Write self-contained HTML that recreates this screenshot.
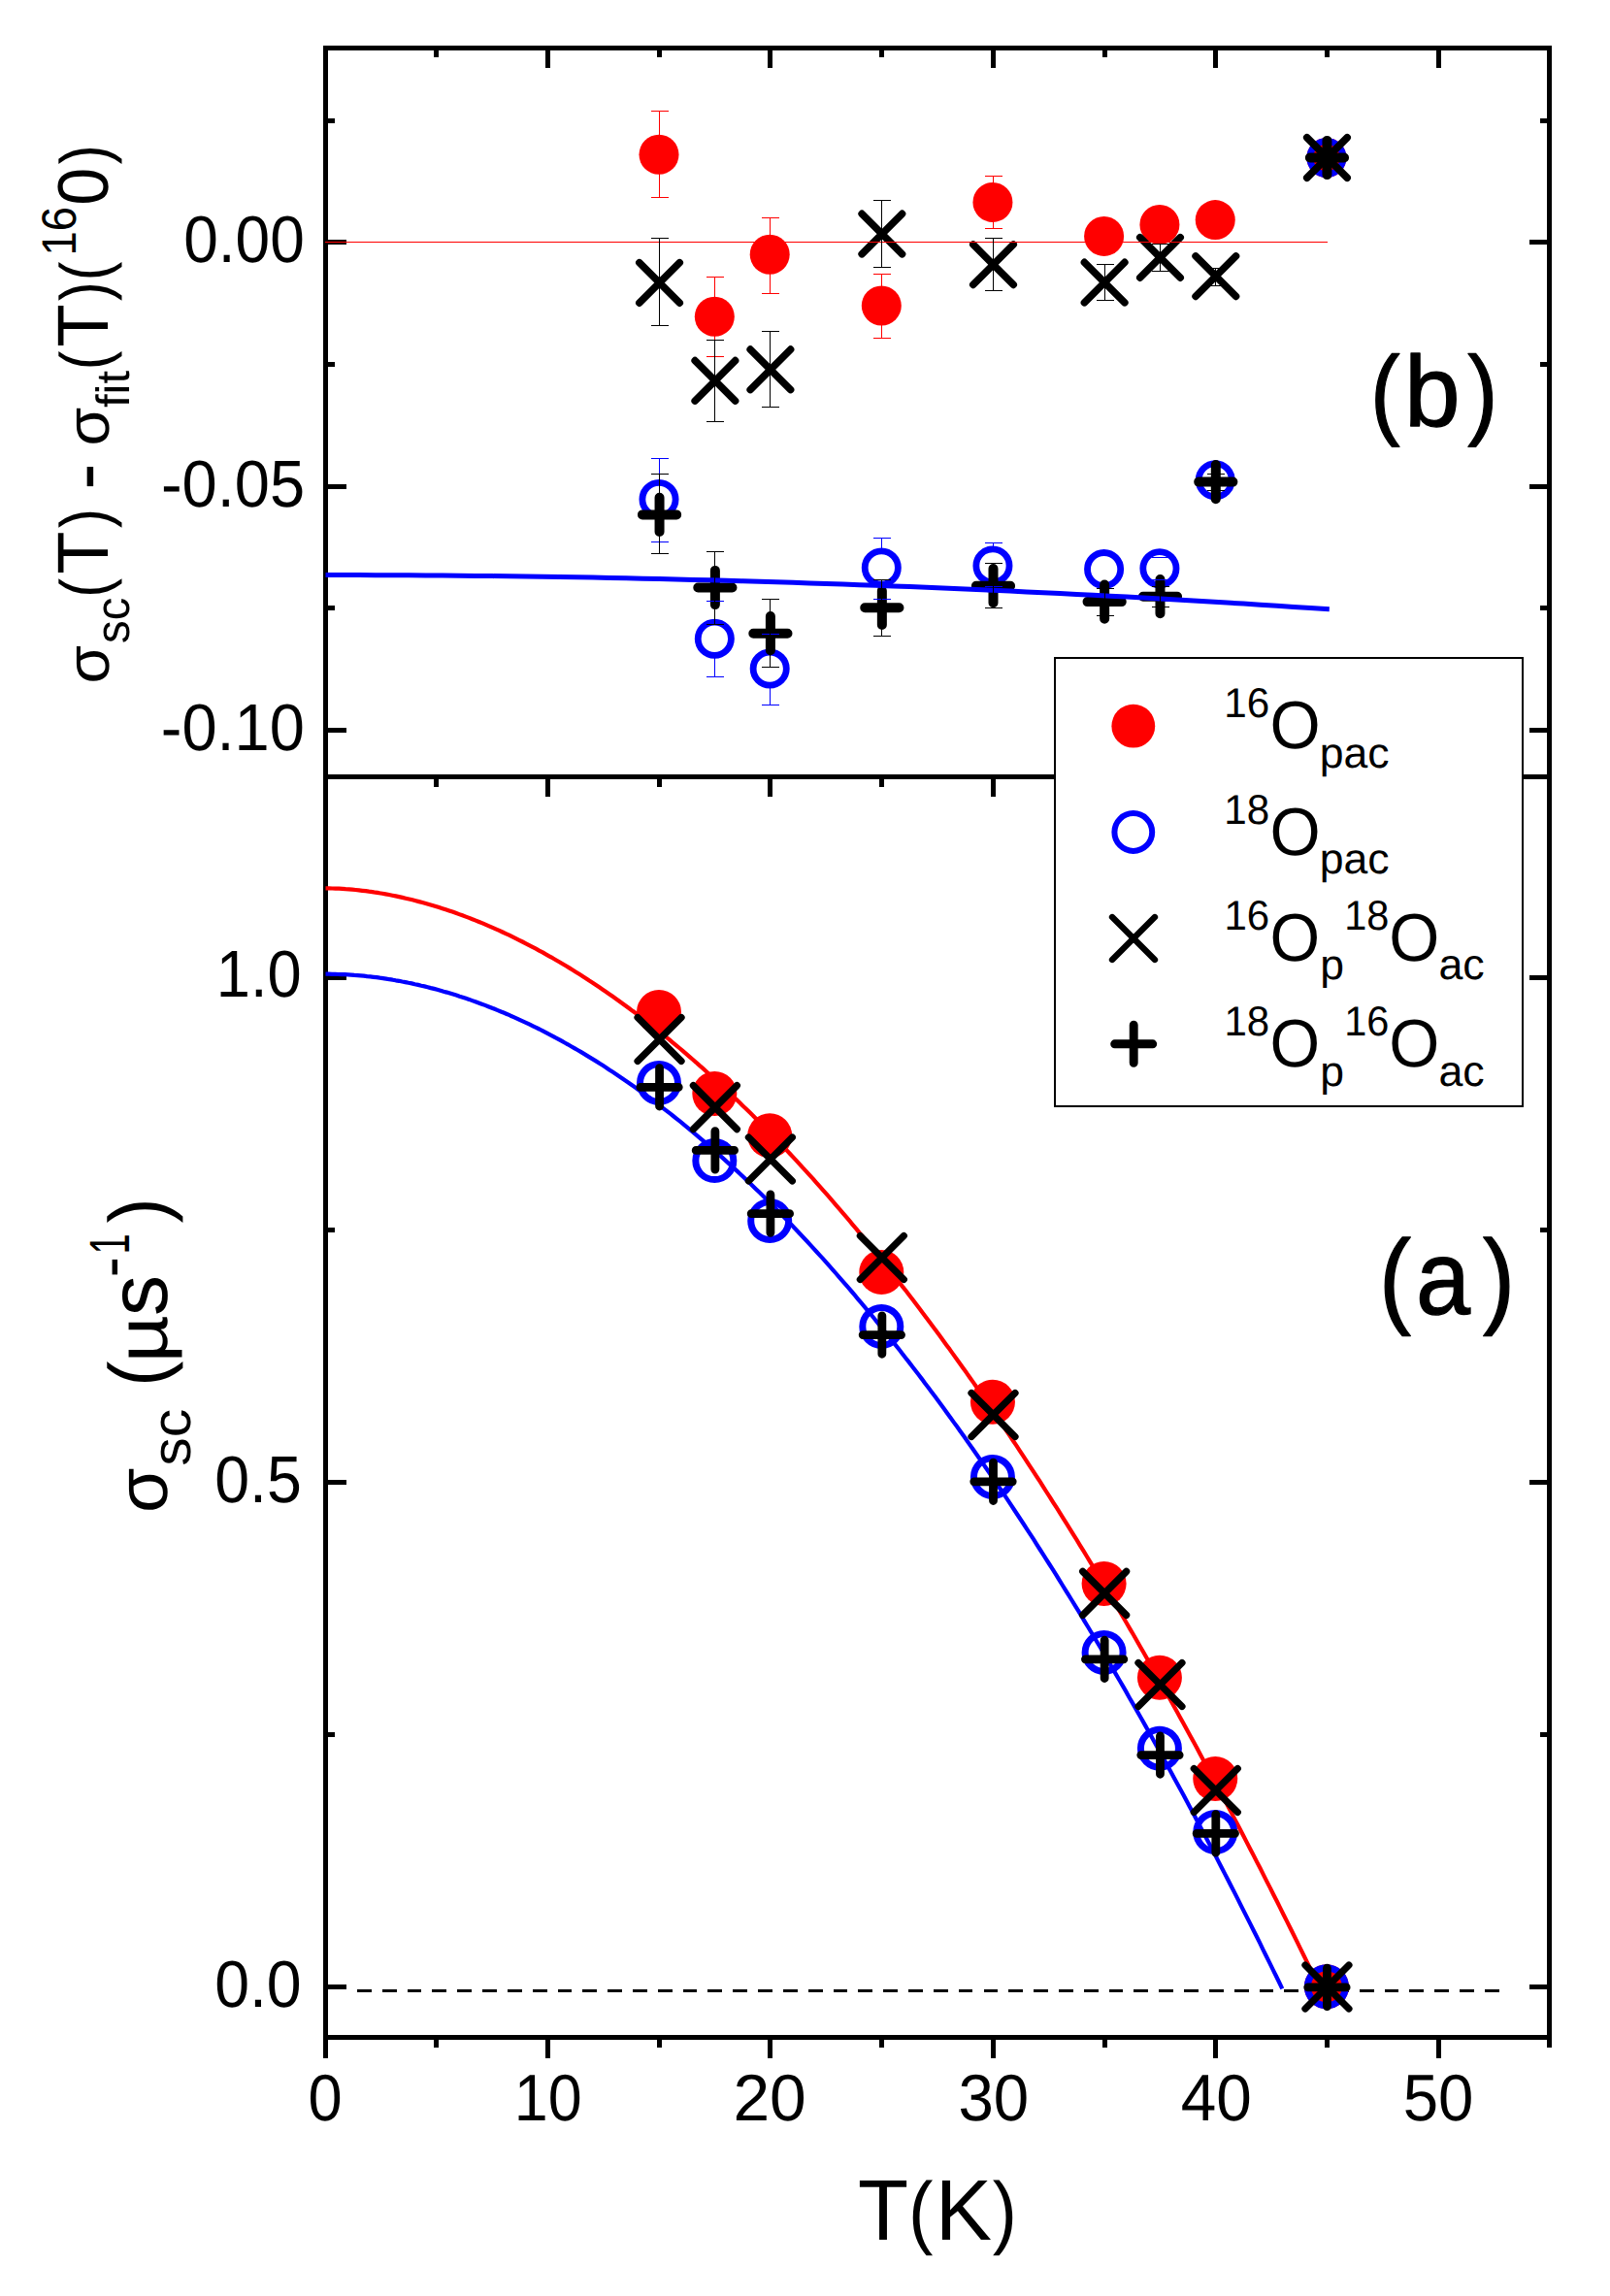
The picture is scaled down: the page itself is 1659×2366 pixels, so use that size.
<!DOCTYPE html>
<html lang="en"><head><meta charset="utf-8"><title>sigma_sc vs T</title>
<style>html,body{margin:0;padding:0;background:#fff}svg{display:block}text{font-family:"Liberation Sans",sans-serif;fill:#000;font-kerning:none;text-rendering:geometricPrecision}</style></head><body>
<svg width="1659" height="2366" viewBox="0 0 1659 2366">
<rect x="0" y="0" width="1659" height="2366" fill="#fff"/>
<g stroke="#000000" stroke-width="5" fill="none" shape-rendering="crispEdges">
<rect x="335.5" y="49.5" width="1261.0" height="2050.0"/>
<line x1="335.5" y1="800.0" x2="1596.5" y2="800.0"/>
<line x1="335.5" y1="2102.0" x2="335.5" y2="2120.5"/>
<line x1="449.5" y1="52.0" x2="449.5" y2="59.0"/>
<line x1="449.5" y1="802.5" x2="449.5" y2="810.5"/>
<line x1="449.5" y1="2102.0" x2="449.5" y2="2109.5"/>
<line x1="564.5" y1="52.0" x2="564.5" y2="70.0"/>
<line x1="564.5" y1="802.5" x2="564.5" y2="820.5"/>
<line x1="564.5" y1="2102.0" x2="564.5" y2="2120.5"/>
<line x1="679.5" y1="52.0" x2="679.5" y2="59.0"/>
<line x1="679.5" y1="802.5" x2="679.5" y2="810.5"/>
<line x1="679.5" y1="2102.0" x2="679.5" y2="2109.5"/>
<line x1="793.5" y1="52.0" x2="793.5" y2="70.0"/>
<line x1="793.5" y1="802.5" x2="793.5" y2="820.5"/>
<line x1="793.5" y1="2102.0" x2="793.5" y2="2120.5"/>
<line x1="908.5" y1="52.0" x2="908.5" y2="59.0"/>
<line x1="908.5" y1="802.5" x2="908.5" y2="810.5"/>
<line x1="908.5" y1="2102.0" x2="908.5" y2="2109.5"/>
<line x1="1023.5" y1="52.0" x2="1023.5" y2="70.0"/>
<line x1="1023.5" y1="802.5" x2="1023.5" y2="820.5"/>
<line x1="1023.5" y1="2102.0" x2="1023.5" y2="2120.5"/>
<line x1="1138.5" y1="52.0" x2="1138.5" y2="59.0"/>
<line x1="1138.5" y1="802.5" x2="1138.5" y2="810.5"/>
<line x1="1138.5" y1="2102.0" x2="1138.5" y2="2109.5"/>
<line x1="1252.5" y1="52.0" x2="1252.5" y2="70.0"/>
<line x1="1252.5" y1="802.5" x2="1252.5" y2="820.5"/>
<line x1="1252.5" y1="2102.0" x2="1252.5" y2="2120.5"/>
<line x1="1367.5" y1="52.0" x2="1367.5" y2="59.0"/>
<line x1="1367.5" y1="802.5" x2="1367.5" y2="810.5"/>
<line x1="1367.5" y1="2102.0" x2="1367.5" y2="2109.5"/>
<line x1="1482.5" y1="52.0" x2="1482.5" y2="70.0"/>
<line x1="1482.5" y1="802.5" x2="1482.5" y2="820.5"/>
<line x1="1482.5" y1="2102.0" x2="1482.5" y2="2120.5"/>
<line x1="1596.5" y1="2102.0" x2="1596.5" y2="2109.5"/>
<line x1="338.0" y1="124.5" x2="345.0" y2="124.5"/>
<line x1="1594.0" y1="124.5" x2="1587.0" y2="124.5"/>
<line x1="338.0" y1="249.5" x2="356.5" y2="249.5"/>
<line x1="1594.0" y1="249.5" x2="1575.5" y2="249.5"/>
<line x1="338.0" y1="375.5" x2="345.0" y2="375.5"/>
<line x1="1594.0" y1="375.5" x2="1587.0" y2="375.5"/>
<line x1="338.0" y1="501.5" x2="356.5" y2="501.5"/>
<line x1="1594.0" y1="501.5" x2="1575.5" y2="501.5"/>
<line x1="338.0" y1="626.5" x2="345.0" y2="626.5"/>
<line x1="1594.0" y1="626.5" x2="1587.0" y2="626.5"/>
<line x1="338.0" y1="752.5" x2="356.5" y2="752.5"/>
<line x1="1594.0" y1="752.5" x2="1575.5" y2="752.5"/>
<line x1="338.0" y1="1007.5" x2="356.5" y2="1007.5"/>
<line x1="1594.0" y1="1007.5" x2="1575.5" y2="1007.5"/>
<line x1="338.0" y1="1267.5" x2="345.0" y2="1267.5"/>
<line x1="1594.0" y1="1267.5" x2="1587.0" y2="1267.5"/>
<line x1="338.0" y1="1527.5" x2="356.5" y2="1527.5"/>
<line x1="1594.0" y1="1527.5" x2="1575.5" y2="1527.5"/>
<line x1="338.0" y1="1787.5" x2="345.0" y2="1787.5"/>
<line x1="1594.0" y1="1787.5" x2="1587.0" y2="1787.5"/>
<line x1="338.0" y1="2047.5" x2="356.5" y2="2047.5"/>
<line x1="1594.0" y1="2047.5" x2="1575.5" y2="2047.5"/>
</g>
<g fill="none" stroke-linejoin="round">
<polyline points="335.5,915.4 338.9,915.4 342.4,915.5 345.8,915.6 349.3,915.7 352.7,915.9 356.1,916.2 359.6,916.4 363.0,916.7 366.5,917.0 369.9,917.4 373.3,917.8 376.8,918.2 380.2,918.7 383.7,919.1 387.1,919.7 390.5,920.2 394.0,920.8 397.4,921.4 400.9,922.0 404.3,922.7 407.7,923.4 411.2,924.1 414.6,924.9 418.0,925.7 421.5,926.5 424.9,927.3 428.4,928.2 431.8,929.1 435.2,930.0 438.7,931.0 442.1,932.0 445.6,933.0 449.0,934.0 452.4,935.1 455.9,936.2 459.3,937.3 462.8,938.5 466.2,939.6 469.6,940.8 473.1,942.1 476.5,943.3 480.0,944.6 483.4,945.9 486.8,947.3 490.3,948.6 493.7,950.0 497.2,951.4 500.6,952.9 504.0,954.4 507.5,955.9 510.9,957.4 514.4,958.9 517.8,960.5 521.2,962.1 524.7,963.7 528.1,965.4 531.6,967.1 535.0,968.8 538.4,970.5 541.9,972.3 545.3,974.1 548.7,975.9 552.2,977.7 555.6,979.6 559.1,981.4 562.5,983.4 565.9,985.3 569.4,987.2 572.8,989.2 576.3,991.2 579.7,993.3 583.1,995.3 586.6,997.4 590.0,999.5 593.5,1001.7 596.9,1003.8 600.3,1006.0 603.8,1008.2 607.2,1010.5 610.7,1012.7 614.1,1015.0 617.5,1017.3 621.0,1019.7 624.4,1022.0 627.9,1024.4 631.3,1026.8 634.7,1029.2 638.2,1031.7 641.6,1034.2 645.1,1036.7 648.5,1039.2 651.9,1041.8 655.4,1044.3 658.8,1046.9 662.3,1049.6 665.7,1052.2 669.1,1054.9 672.6,1057.6 676.0,1060.3 679.5,1063.1 682.9,1065.8 686.3,1068.6 689.8,1071.4 693.2,1074.3 696.6,1077.1 700.1,1080.0 703.5,1082.9 707.0,1085.9 710.4,1088.8 713.8,1091.8 717.3,1094.8 720.7,1097.9 724.2,1100.9 727.6,1104.0 731.0,1107.1 734.5,1110.2 737.9,1113.4 741.4,1116.5 744.8,1119.7 748.2,1122.9 751.7,1126.2 755.1,1129.5 758.6,1132.7 762.0,1136.1 765.4,1139.4 768.9,1142.7 772.3,1146.1 775.8,1149.5 779.2,1153.0 782.6,1156.4 786.1,1159.9 789.5,1163.4 793.0,1166.9 796.4,1170.4 799.8,1174.0 803.3,1177.6 806.7,1181.2 810.2,1184.8 813.6,1188.5 817.0,1192.2 820.5,1195.9 823.9,1199.6 827.3,1203.4 830.8,1207.1 834.2,1210.9 837.7,1214.7 841.1,1218.6 844.5,1222.4 848.0,1226.3 851.4,1230.2 854.9,1234.2 858.3,1238.1 861.7,1242.1 865.2,1246.1 868.6,1250.1 872.1,1254.2 875.5,1258.2 878.9,1262.3 882.4,1266.4 885.8,1270.6 889.3,1274.7 892.7,1278.9 896.1,1283.1 899.6,1287.3 903.0,1291.6 906.5,1295.8 909.9,1300.1 913.3,1304.5 916.8,1308.8 920.2,1313.1 923.7,1317.5 927.1,1321.9 930.5,1326.4 934.0,1330.8 937.4,1335.3 940.9,1339.8 944.3,1344.3 947.7,1348.8 951.2,1353.4 954.6,1358.0 958.0,1362.6 961.5,1367.2 964.9,1371.8 968.4,1376.5 971.8,1381.2 975.2,1385.9 978.7,1390.6 982.1,1395.4 985.6,1400.2 989.0,1405.0 992.4,1409.8 995.9,1414.6 999.3,1419.5 1002.8,1424.4 1006.2,1429.3 1009.6,1434.2 1013.1,1439.2 1016.5,1444.2 1020.0,1449.2 1023.4,1454.2 1026.8,1459.2 1030.3,1464.3 1033.7,1469.4 1037.2,1474.5 1040.6,1479.6 1044.0,1484.8 1047.5,1489.9 1050.9,1495.1 1054.4,1500.3 1057.8,1505.6 1061.2,1510.8 1064.7,1516.1 1068.1,1521.4 1071.6,1526.7 1075.0,1532.1 1078.4,1537.5 1081.9,1542.8 1085.3,1548.3 1088.8,1553.7 1092.2,1559.1 1095.6,1564.6 1099.1,1570.1 1102.5,1575.6 1105.9,1581.2 1109.4,1586.7 1112.8,1592.3 1116.3,1597.9 1119.7,1603.5 1123.1,1609.2 1126.6,1614.9 1130.0,1620.6 1133.5,1626.3 1136.9,1632.0 1140.3,1637.7 1143.8,1643.5 1147.2,1649.3 1150.7,1655.1 1154.1,1661.0 1157.5,1666.8 1161.0,1672.7 1164.4,1678.6 1167.9,1684.5 1171.3,1690.5 1174.7,1696.5 1178.2,1702.5 1181.6,1708.5 1185.1,1714.5 1188.5,1720.5 1191.9,1726.6 1195.4,1732.7 1198.8,1738.8 1202.3,1745.0 1205.7,1751.1 1209.1,1757.3 1212.6,1763.5 1216.0,1769.7 1219.5,1776.0 1222.9,1782.2 1226.3,1788.5 1229.8,1794.8 1233.2,1801.1 1236.6,1807.5 1240.1,1813.9 1243.5,1820.3 1247.0,1826.7 1250.4,1833.1 1253.8,1839.6 1257.3,1846.0 1260.7,1852.5 1264.2,1859.0 1267.6,1865.6 1271.0,1872.1 1274.5,1878.7 1277.9,1885.3 1281.4,1891.9 1284.8,1898.6 1288.2,1905.2 1291.7,1911.9 1295.1,1918.6 1298.6,1925.3 1302.0,1932.1 1305.4,1938.9 1308.9,1945.6 1312.3,1952.5 1315.8,1959.3 1319.2,1966.1 1322.6,1973.0 1326.1,1979.9 1329.5,1986.8 1333.0,1993.7 1336.4,2000.7 1339.8,2007.7 1343.3,2014.7 1346.7,2021.7 1350.2,2028.7 1353.6,2035.8 1357.0,2042.9 1360.5,2050.0 1363.9,2057.1 1367.3,2064.2" stroke="#ff0000" stroke-width="4.2"/>
<polyline points="335.5,1003.7 338.8,1003.7 342.1,1003.8 345.4,1003.9 348.6,1004.0 351.9,1004.1 355.2,1004.2 358.5,1004.4 361.8,1004.6 365.1,1004.9 368.4,1005.1 371.6,1005.4 374.9,1005.7 378.2,1006.1 381.5,1006.4 384.8,1006.8 388.1,1007.2 391.4,1007.7 394.6,1008.1 397.9,1008.6 401.2,1009.2 404.5,1009.7 407.8,1010.3 411.1,1010.8 414.4,1011.5 417.6,1012.1 420.9,1012.8 424.2,1013.4 427.5,1014.2 430.8,1014.9 434.1,1015.7 437.4,1016.4 440.6,1017.2 443.9,1018.1 447.2,1018.9 450.5,1019.8 453.8,1020.7 457.1,1021.7 460.4,1022.6 463.6,1023.6 466.9,1024.6 470.2,1025.6 473.5,1026.7 476.8,1027.7 480.1,1028.8 483.4,1029.9 486.6,1031.1 489.9,1032.3 493.2,1033.5 496.5,1034.7 499.8,1035.9 503.1,1037.2 506.4,1038.5 509.7,1039.8 512.9,1041.1 516.2,1042.5 519.5,1043.8 522.8,1045.2 526.1,1046.7 529.4,1048.1 532.7,1049.6 535.9,1051.1 539.2,1052.6 542.5,1054.1 545.8,1055.7 549.1,1057.3 552.4,1058.9 555.7,1060.5 558.9,1062.2 562.2,1063.9 565.5,1065.6 568.8,1067.3 572.1,1069.1 575.4,1070.8 578.7,1072.6 581.9,1074.5 585.2,1076.3 588.5,1078.2 591.8,1080.1 595.1,1082.0 598.4,1083.9 601.7,1085.9 604.9,1087.9 608.2,1089.9 611.5,1091.9 614.8,1093.9 618.1,1096.0 621.4,1098.1 624.7,1100.2 627.9,1102.4 631.2,1104.5 634.5,1106.7 637.8,1108.9 641.1,1111.2 644.4,1113.4 647.7,1115.7 650.9,1118.0 654.2,1120.3 657.5,1122.7 660.8,1125.0 664.1,1127.4 667.4,1129.9 670.7,1132.3 673.9,1134.8 677.2,1137.2 680.5,1139.7 683.8,1142.3 687.1,1144.8 690.4,1147.4 693.7,1150.0 696.9,1152.6 700.2,1155.2 703.5,1157.9 706.8,1160.6 710.1,1163.3 713.4,1166.0 716.7,1168.8 719.9,1171.6 723.2,1174.4 726.5,1177.2 729.8,1180.0 733.1,1182.9 736.4,1185.8 739.7,1188.7 742.9,1191.6 746.2,1194.6 749.5,1197.6 752.8,1200.6 756.1,1203.6 759.4,1206.6 762.7,1209.7 765.9,1212.8 769.2,1215.9 772.5,1219.0 775.8,1222.2 779.1,1225.4 782.4,1228.6 785.7,1231.8 788.9,1235.0 792.2,1238.3 795.5,1241.6 798.8,1244.9 802.1,1248.2 805.4,1251.6 808.7,1255.0 812.0,1258.4 815.2,1261.8 818.5,1265.2 821.8,1268.7 825.1,1272.2 828.4,1275.7 831.7,1279.2 835.0,1282.8 838.2,1286.4 841.5,1290.0 844.8,1293.6 848.1,1297.2 851.4,1300.9 854.7,1304.6 858.0,1308.3 861.2,1312.0 864.5,1315.8 867.8,1319.6 871.1,1323.4 874.4,1327.2 877.7,1331.0 881.0,1334.9 884.2,1338.8 887.5,1342.7 890.8,1346.6 894.1,1350.6 897.4,1354.5 900.7,1358.5 904.0,1362.6 907.2,1366.6 910.5,1370.7 913.8,1374.7 917.1,1378.8 920.4,1383.0 923.7,1387.1 927.0,1391.3 930.2,1395.5 933.5,1399.7 936.8,1403.9 940.1,1408.2 943.4,1412.5 946.7,1416.8 950.0,1421.1 953.2,1425.5 956.5,1429.8 959.8,1434.2 963.1,1438.6 966.4,1443.1 969.7,1447.5 973.0,1452.0 976.2,1456.5 979.5,1461.0 982.8,1465.6 986.1,1470.1 989.4,1474.7 992.7,1479.3 996.0,1484.0 999.2,1488.6 1002.5,1493.3 1005.8,1498.0 1009.1,1502.7 1012.4,1507.4 1015.7,1512.2 1019.0,1517.0 1022.2,1521.8 1025.5,1526.6 1028.8,1531.5 1032.1,1536.3 1035.4,1541.2 1038.7,1546.1 1042.0,1551.1 1045.2,1556.0 1048.5,1561.0 1051.8,1566.0 1055.1,1571.0 1058.4,1576.1 1061.7,1581.1 1065.0,1586.2 1068.2,1591.3 1071.5,1596.5 1074.8,1601.6 1078.1,1606.8 1081.4,1612.0 1084.7,1617.2 1088.0,1622.4 1091.2,1627.7 1094.5,1633.0 1097.8,1638.3 1101.1,1643.6 1104.4,1649.0 1107.7,1654.3 1111.0,1659.7 1114.3,1665.1 1117.5,1670.6 1120.8,1676.0 1124.1,1681.5 1127.4,1687.0 1130.7,1692.5 1134.0,1698.0 1137.3,1703.6 1140.5,1709.2 1143.8,1714.8 1147.1,1720.4 1150.4,1726.1 1153.7,1731.7 1157.0,1737.4 1160.3,1743.1 1163.5,1748.9 1166.8,1754.6 1170.1,1760.4 1173.4,1766.2 1176.7,1772.0 1180.0,1777.9 1183.3,1783.7 1186.5,1789.6 1189.8,1795.5 1193.1,1801.4 1196.4,1807.4 1199.7,1813.4 1203.0,1819.4 1206.3,1825.4 1209.5,1831.4 1212.8,1837.5 1216.1,1843.5 1219.4,1849.6 1222.7,1855.8 1226.0,1861.9 1229.3,1868.1 1232.5,1874.2 1235.8,1880.5 1239.1,1886.7 1242.4,1892.9 1245.7,1899.2 1249.0,1905.5 1252.3,1911.8 1255.5,1918.1 1258.8,1924.5 1262.1,1930.9 1265.4,1937.3 1268.7,1943.7 1272.0,1950.1 1275.3,1956.6 1278.5,1963.1 1281.8,1969.6 1285.1,1976.1 1288.4,1982.6 1291.7,1989.2 1295.0,1995.8 1298.3,2002.4 1301.5,2009.1 1304.8,2015.7 1308.1,2022.4 1311.4,2029.1 1314.7,2035.8 1318.0,2042.5 1321.3,2049.3" stroke="#0000ff" stroke-width="4.2"/>
<line x1="368" y1="2051.5" x2="1545.3" y2="2051.5" stroke="#000000" stroke-width="3" stroke-dasharray="14.8 11.02" shape-rendering="crispEdges"/>
</g>
<g id="panel-b-data">
<circle cx="679.0" cy="159.3" r="20.5" fill="#ff0000"/>
<circle cx="736.32" cy="326.3" r="20.5" fill="#ff0000"/>
<circle cx="793.2" cy="262.2" r="20.5" fill="#ff0000"/>
<circle cx="908.3" cy="315.0" r="20.5" fill="#ff0000"/>
<circle cx="1022.95" cy="208.4" r="20.5" fill="#ff0000"/>
<circle cx="1137.6" cy="243.4" r="20.5" fill="#ff0000"/>
<circle cx="1194.92" cy="231.4" r="20.5" fill="#ff0000"/>
<circle cx="1252.25" cy="226.6" r="20.5" fill="#ff0000"/>
<circle cx="1366.9" cy="162.5" r="20.5" fill="#ff0000"/>
<circle cx="679.0" cy="514.5" r="17.1" fill="none" stroke="#0000ff" stroke-width="6.8"/>
<circle cx="736.32" cy="658.3" r="17.1" fill="none" stroke="#0000ff" stroke-width="6.8"/>
<circle cx="793.2" cy="689.1" r="17.1" fill="none" stroke="#0000ff" stroke-width="6.8"/>
<circle cx="908.3" cy="585.0" r="17.1" fill="none" stroke="#0000ff" stroke-width="6.8"/>
<circle cx="1022.95" cy="582.9" r="17.1" fill="none" stroke="#0000ff" stroke-width="6.8"/>
<circle cx="1137.6" cy="586.6" r="17.1" fill="none" stroke="#0000ff" stroke-width="6.8"/>
<circle cx="1194.92" cy="585.8" r="17.1" fill="none" stroke="#0000ff" stroke-width="6.8"/>
<circle cx="1252.25" cy="494.7" r="17.1" fill="none" stroke="#0000ff" stroke-width="6.8"/>
<circle cx="1366.9" cy="162.5" r="17.1" fill="none" stroke="#0000ff" stroke-width="6.8"/>
<path d="M658.80 270.65L700.30 312.15M658.80 312.15L700.30 270.65" stroke="#000000" stroke-width="7.5" stroke-linecap="round" fill="none"/>
<path d="M716.13 371.55L757.63 413.05M716.13 413.05L757.63 371.55" stroke="#000000" stroke-width="7.5" stroke-linecap="round" fill="none"/>
<path d="M773.15 360.05L814.65 401.55M773.15 401.55L814.65 360.05" stroke="#000000" stroke-width="7.5" stroke-linecap="round" fill="none"/>
<path d="M888.10 220.35L929.60 261.85M888.10 261.85L929.60 220.35" stroke="#000000" stroke-width="7.5" stroke-linecap="round" fill="none"/>
<path d="M1002.75 251.95L1044.25 293.45M1002.75 293.45L1044.25 251.95" stroke="#000000" stroke-width="7.5" stroke-linecap="round" fill="none"/>
<path d="M1117.40 270.35L1158.90 311.85M1117.40 311.85L1158.90 270.35" stroke="#000000" stroke-width="7.5" stroke-linecap="round" fill="none"/>
<path d="M1174.72 244.65L1216.22 286.15M1174.72 286.15L1216.22 244.65" stroke="#000000" stroke-width="7.5" stroke-linecap="round" fill="none"/>
<path d="M1232.05 263.95L1273.55 305.45M1232.05 305.45L1273.55 263.95" stroke="#000000" stroke-width="7.5" stroke-linecap="round" fill="none"/>
<path d="M1346.70 141.75L1388.20 183.25M1346.70 183.25L1388.20 141.75" stroke="#000000" stroke-width="7.5" stroke-linecap="round" fill="none"/>
<path d="M661.95 530.40H697.15M679.55 512.80V548.00" stroke="#000000" stroke-width="10" stroke-linecap="round" fill="none"/>
<path d="M719.28 605.50H754.48M736.88 587.90V623.10" stroke="#000000" stroke-width="10" stroke-linecap="round" fill="none"/>
<path d="M776.30 652.70H811.50M793.90 635.10V670.30" stroke="#000000" stroke-width="10" stroke-linecap="round" fill="none"/>
<path d="M891.25 626.30H926.45M908.85 608.70V643.90" stroke="#000000" stroke-width="10" stroke-linecap="round" fill="none"/>
<path d="M1005.90 603.70H1041.10M1023.50 586.10V621.30" stroke="#000000" stroke-width="10" stroke-linecap="round" fill="none"/>
<path d="M1120.55 620.10H1155.75M1138.15 602.50V637.70" stroke="#000000" stroke-width="10" stroke-linecap="round" fill="none"/>
<path d="M1177.87 614.70H1213.07M1195.47 597.10V632.30" stroke="#000000" stroke-width="10" stroke-linecap="round" fill="none"/>
<path d="M1235.20 496.60H1270.40M1252.80 479.00V514.20" stroke="#000000" stroke-width="10" stroke-linecap="round" fill="none"/>
<path d="M1349.85 162.50H1385.05M1367.45 144.90V180.10" stroke="#000000" stroke-width="10" stroke-linecap="round" fill="none"/>
<polyline points="335.5,592.5 352.7,592.6 369.9,592.6 387.1,592.7 404.3,592.7 421.5,592.8 438.7,592.9 455.9,593.1 473.1,593.2 490.3,593.4 507.5,593.6 524.7,593.8 541.9,594.0 559.1,594.3 576.3,594.6 593.5,594.8 610.7,595.1 627.9,595.5 645.1,595.8 662.3,596.2 679.5,596.6 696.6,597.0 713.8,597.4 731.0,597.8 748.2,598.3 765.4,598.8 782.6,599.3 799.8,599.8 817.0,600.3 834.2,600.9 851.4,601.5 868.6,602.1 885.8,602.7 903.0,603.3 920.2,604.0 937.4,604.6 954.6,605.3 971.8,606.0 989.0,606.8 1006.2,607.5 1023.4,608.3 1040.6,609.1 1057.8,609.9 1075.0,610.7 1092.2,611.6 1109.4,612.4 1126.6,613.3 1143.8,614.2 1161.0,615.1 1178.2,616.1 1195.4,617.0 1212.6,618.0 1229.8,619.0 1247.0,620.0 1264.2,621.1 1281.4,622.1 1298.6,623.2 1315.8,624.3 1333.0,625.4 1350.2,626.6 1369.8,627.7" stroke="#0000ff" stroke-width="5" fill="none"/>
<line x1="335" y1="249.5" x2="1367.9" y2="249.5" stroke="#ff0000" stroke-width="1" shape-rendering="crispEdges"/>
<path d="M670.5 114.5H688.5M670.5 203.5H688.5M679.5 114.5V139.8M679.5 178.8V203.5" stroke="#ff0000" stroke-width="1" fill="none" shape-rendering="crispEdges"/>
<path d="M727.5 285.5H745.5M727.5 367.5H745.5M736.5 285.5V306.8M736.5 345.8V367.5" stroke="#ff0000" stroke-width="1" fill="none" shape-rendering="crispEdges"/>
<path d="M784.5 224.5H802.5M784.5 302.5H802.5M793.5 224.5V242.7M793.5 281.7V302.5" stroke="#ff0000" stroke-width="1" fill="none" shape-rendering="crispEdges"/>
<path d="M899.5 282.5H917.5M899.5 348.5H917.5M908.5 282.5V295.5M908.5 334.5V348.5" stroke="#ff0000" stroke-width="1" fill="none" shape-rendering="crispEdges"/>
<path d="M1014.5 181.5H1032.5M1014.5 235.5H1032.5M1023.5 181.5V188.9M1023.5 227.9V235.5" stroke="#ff0000" stroke-width="1" fill="none" shape-rendering="crispEdges"/>
<path d="M670.5 472.5H688.5M670.5 558.5H688.5M679.5 472.5V495.0M679.5 534.0V558.5" stroke="#0000ff" stroke-width="1" fill="none" shape-rendering="crispEdges"/>
<path d="M727.5 619.5H745.5M727.5 697.5H745.5M736.5 619.5V638.8M736.5 677.8V697.5" stroke="#0000ff" stroke-width="1" fill="none" shape-rendering="crispEdges"/>
<path d="M784.5 653.5H802.5M784.5 726.5H802.5M793.5 653.5V669.6M793.5 708.6V726.5" stroke="#0000ff" stroke-width="1" fill="none" shape-rendering="crispEdges"/>
<path d="M899.5 554.5H917.5M899.5 617.5H917.5M908.5 554.5V565.5M908.5 604.5V617.5" stroke="#0000ff" stroke-width="1" fill="none" shape-rendering="crispEdges"/>
<path d="M1014.5 559.5H1032.5M1014.5 604.5H1032.5M1023.5 559.5V563.4M1023.5 602.4V604.5" stroke="#0000ff" stroke-width="1" fill="none" shape-rendering="crispEdges"/>
<path d="M1186.5 574.5H1204.5M1186.5 597.5H1204.5" stroke="#0000ff" stroke-width="1" fill="none" shape-rendering="crispEdges"/>
<path d="M670.5 245.5H688.5M670.5 335.5H688.5M679.5 245.5V335.5" stroke="#000000" stroke-width="1" fill="none" shape-rendering="crispEdges"/>
<path d="M727.5 350.5H745.5M727.5 434.5H745.5M736.5 350.5V434.5" stroke="#000000" stroke-width="1" fill="none" shape-rendering="crispEdges"/>
<path d="M784.5 341.5H802.5M784.5 419.5H802.5M793.5 341.5V419.5" stroke="#000000" stroke-width="1" fill="none" shape-rendering="crispEdges"/>
<path d="M899.5 206.5H917.5M899.5 275.5H917.5M908.5 206.5V275.5" stroke="#000000" stroke-width="1" fill="none" shape-rendering="crispEdges"/>
<path d="M1014.5 245.5H1032.5M1014.5 299.5H1032.5M1023.5 245.5V299.5" stroke="#000000" stroke-width="1" fill="none" shape-rendering="crispEdges"/>
<path d="M1129.5 272.5H1147.5M1129.5 309.5H1147.5M1138.5 272.5V309.5" stroke="#000000" stroke-width="1" fill="none" shape-rendering="crispEdges"/>
<path d="M1186.5 251.5H1204.5M1186.5 279.5H1204.5M1195.5 251.5V279.5" stroke="#000000" stroke-width="1" fill="none" shape-rendering="crispEdges"/>
<path d="M1243.5 276.5H1261.5M1243.5 294.5H1261.5M1252.5 276.5V294.5" stroke="#000000" stroke-width="1" fill="none" shape-rendering="crispEdges"/>
<path d="M670.5 488.5H688.5M670.5 570.5H688.5M679.5 488.5V570.5" stroke="#000000" stroke-width="1" fill="none" shape-rendering="crispEdges"/>
<path d="M727.5 568.5H745.5M727.5 643.5H745.5M736.5 568.5V643.5" stroke="#000000" stroke-width="1" fill="none" shape-rendering="crispEdges"/>
<path d="M784.5 617.5H802.5M784.5 687.5H802.5M793.5 617.5V687.5" stroke="#000000" stroke-width="1" fill="none" shape-rendering="crispEdges"/>
<path d="M899.5 597.5H917.5M899.5 655.5H917.5M908.5 597.5V655.5" stroke="#000000" stroke-width="1" fill="none" shape-rendering="crispEdges"/>
<path d="M1014.5 580.5H1032.5M1014.5 626.5H1032.5M1023.5 580.5V626.5" stroke="#000000" stroke-width="1" fill="none" shape-rendering="crispEdges"/>
<path d="M1129.5 606.5H1147.5M1129.5 634.5H1147.5M1138.5 606.5V634.5" stroke="#000000" stroke-width="1" fill="none" shape-rendering="crispEdges"/>
<path d="M1186.5 604.5H1204.5M1186.5 625.5H1204.5M1195.5 604.5V625.5" stroke="#000000" stroke-width="1" fill="none" shape-rendering="crispEdges"/>
<path d="M1243.5 488.5H1261.5M1243.5 505.5H1261.5M1252.5 488.5V505.5" stroke="#000000" stroke-width="1" fill="none" shape-rendering="crispEdges"/>
</g>
<g id="panel-a-data">
<circle cx="679.0" cy="1042.9" r="23" fill="#ff0000"/>
<circle cx="736.32" cy="1127.0" r="23" fill="#ff0000"/>
<circle cx="793.2" cy="1170.2" r="23" fill="#ff0000"/>
<circle cx="908.3" cy="1311.1" r="23" fill="#ff0000"/>
<circle cx="1022.95" cy="1444.8" r="23" fill="#ff0000"/>
<circle cx="1137.6" cy="1631.9" r="23" fill="#ff0000"/>
<circle cx="1194.92" cy="1728.8" r="23" fill="#ff0000"/>
<circle cx="1252.25" cy="1833.0" r="23" fill="#ff0000"/>
<circle cx="1366.9" cy="2047.2" r="23" fill="#ff0000"/>
<circle cx="679.0" cy="1116.0" r="19.5" fill="none" stroke="#0000ff" stroke-width="7"/>
<circle cx="736.32" cy="1196.1" r="19.5" fill="none" stroke="#0000ff" stroke-width="7"/>
<circle cx="793.2" cy="1257.9" r="19.5" fill="none" stroke="#0000ff" stroke-width="7"/>
<circle cx="908.3" cy="1366.9" r="19.5" fill="none" stroke="#0000ff" stroke-width="7"/>
<circle cx="1022.95" cy="1522.0" r="19.5" fill="none" stroke="#0000ff" stroke-width="7"/>
<circle cx="1137.6" cy="1702.9" r="19.5" fill="none" stroke="#0000ff" stroke-width="7"/>
<circle cx="1194.92" cy="1801.7" r="19.5" fill="none" stroke="#0000ff" stroke-width="7"/>
<circle cx="1252.25" cy="1888.1" r="19.5" fill="none" stroke="#0000ff" stroke-width="7"/>
<circle cx="1366.9" cy="2047.2" r="19.5" fill="none" stroke="#0000ff" stroke-width="7"/>
<path d="M657.05 1048.50L702.05 1093.50M657.05 1093.50L702.05 1048.50" stroke="#000000" stroke-width="7.2" stroke-linecap="round" fill="none"/>
<path d="M714.38 1118.60L759.38 1163.60M714.38 1163.60L759.38 1118.60" stroke="#000000" stroke-width="7.2" stroke-linecap="round" fill="none"/>
<path d="M771.40 1172.00L816.40 1217.00M771.40 1217.00L816.40 1172.00" stroke="#000000" stroke-width="7.2" stroke-linecap="round" fill="none"/>
<path d="M886.35 1273.45L931.35 1318.45M886.35 1318.45L931.35 1273.45" stroke="#000000" stroke-width="7.2" stroke-linecap="round" fill="none"/>
<path d="M1001.00 1435.46L1046.00 1480.46M1001.00 1480.46L1046.00 1435.46" stroke="#000000" stroke-width="7.2" stroke-linecap="round" fill="none"/>
<path d="M1115.65 1619.40L1160.65 1664.40M1115.65 1664.40L1160.65 1619.40" stroke="#000000" stroke-width="7.2" stroke-linecap="round" fill="none"/>
<path d="M1172.97 1713.47L1217.97 1758.47M1172.97 1758.47L1217.97 1713.47" stroke="#000000" stroke-width="7.2" stroke-linecap="round" fill="none"/>
<path d="M1230.30 1822.55L1275.30 1867.55M1230.30 1867.55L1275.30 1822.55" stroke="#000000" stroke-width="7.2" stroke-linecap="round" fill="none"/>
<path d="M1344.95 2025.00L1389.95 2070.00M1344.95 2070.00L1389.95 2025.00" stroke="#000000" stroke-width="7.2" stroke-linecap="round" fill="none"/>
<path d="M659.85 1120.30H699.25M679.55 1100.60V1140.00" stroke="#000000" stroke-width="8.8" stroke-linecap="round" fill="none"/>
<path d="M717.18 1185.40H756.58M736.88 1165.70V1205.10" stroke="#000000" stroke-width="8.8" stroke-linecap="round" fill="none"/>
<path d="M774.20 1250.65H813.60M793.90 1230.95V1270.35" stroke="#000000" stroke-width="8.8" stroke-linecap="round" fill="none"/>
<path d="M889.15 1375.55H928.55M908.85 1355.85V1395.25" stroke="#000000" stroke-width="8.8" stroke-linecap="round" fill="none"/>
<path d="M1003.80 1526.80H1043.20M1023.50 1507.10V1546.50" stroke="#000000" stroke-width="8.8" stroke-linecap="round" fill="none"/>
<path d="M1118.45 1709.80H1157.85M1138.15 1690.10V1729.50" stroke="#000000" stroke-width="8.8" stroke-linecap="round" fill="none"/>
<path d="M1175.77 1808.55H1215.17M1195.47 1788.85V1828.25" stroke="#000000" stroke-width="8.8" stroke-linecap="round" fill="none"/>
<path d="M1233.10 1889.35H1272.50M1252.80 1869.65V1909.05" stroke="#000000" stroke-width="8.8" stroke-linecap="round" fill="none"/>
<path d="M1347.75 2047.90H1387.15M1367.45 2028.20V2067.60" stroke="#000000" stroke-width="8.8" stroke-linecap="round" fill="none"/>
</g>
<g id="tick-labels">
<text transform="translate(317.43 2185.34) scale(0.9572 1.0272)" font-size="66">0</text>
<text transform="translate(529.72 2185.34) scale(0.9513 1.0272)" font-size="66">10</text>
<text transform="translate(755.39 2185.34) scale(1.0264 1.0272)" font-size="66">20</text>
<text transform="translate(987.41 2185.34) scale(0.9909 1.0272)" font-size="66">30</text>
<text transform="translate(1216.69 2185.34) scale(0.9954 1.0272)" font-size="66">40</text>
<text transform="translate(1445.68 2185.34) scale(0.9899 1.0272)" font-size="66">50</text>
<text transform="translate(189.20 270.23) scale(0.9700 1.0336)" font-size="66">0.00</text>
<text transform="translate(165.91 521.63) scale(0.9846 1.0336)" font-size="66">-0.05</text>
<text transform="translate(165.81 772.53) scale(0.9840 1.0336)" font-size="66">-0.10</text>
<text transform="translate(222.79 1027.43) scale(0.9567 1.0336)" font-size="66">1.0</text>
<text transform="translate(221.18 1547.53) scale(0.9769 1.0336)" font-size="66">0.5</text>
<text transform="translate(221.14 2067.63) scale(0.9753 1.0336)" font-size="66">0.0</text>
</g>
<g id="titles">
<text transform="translate(883.99 2307.90) scale(1.0029 1.0431)" font-size="85">T</text>
<text transform="translate(936.05 2307.49) scale(0.9008 0.9837)" font-size="85">(</text>
<text transform="translate(963.74 2307.90) scale(1.0273 1.0431)" font-size="85">K</text>
<text transform="translate(1022.76 2307.49) scale(0.8874 0.9837)" font-size="85">)</text>
<text transform="translate(111.99 704.49) rotate(-90) scale(0.8903 0.8699)" font-size="72">σ</text>
<text transform="translate(132.72 662.91) rotate(-90) scale(0.9824 1.0267)" font-size="48">sc</text>
<text transform="translate(110.51 615.70) rotate(-90) scale(0.8277 0.9720)" font-size="72">(</text>
<text transform="translate(111.00 591.63) rotate(-90) scale(1.0071 1.0336)" font-size="72">T</text>
<text transform="translate(110.51 544.05) rotate(-90) scale(0.8277 0.9720)" font-size="72">)</text>
<text transform="translate(114.95 504.66) rotate(-90) scale(1.1435 1.1556)" font-size="72">-</text>
<text transform="translate(111.99 459.50) rotate(-90) scale(0.8928 0.8699)" font-size="72">σ</text>
<text transform="translate(132.82 420.10) rotate(-90) scale(1.0247 1.0041)" font-size="48">fit</text>
<text transform="translate(110.51 381.27) rotate(-90) scale(0.8224 0.9720)" font-size="72">(</text>
<text transform="translate(111.00 357.74) rotate(-90) scale(1.0120 1.0336)" font-size="72">T</text>
<text transform="translate(110.51 310.05) rotate(-90) scale(0.8224 0.9720)" font-size="72">)</text>
<text transform="translate(110.51 289.17) rotate(-90) scale(0.8224 0.9720)" font-size="72">(</text>
<text transform="translate(77.61 263.46) rotate(-90) scale(0.9470 1.0387)" font-size="48">16</text>
<text transform="translate(111.38 211.83) rotate(-90) scale(0.9704 1.0260)" font-size="72">0</text>
<text transform="translate(110.51 169.25) rotate(-90) scale(0.8381 0.9720)" font-size="72">)</text>
<text transform="translate(172.08 1558.96) rotate(-90) scale(0.8949 0.8805)" font-size="84">σ</text>
<text transform="translate(196.45 1510.74) rotate(-90) scale(1.0535 1.0104)" font-size="56">sc</text>
<text transform="translate(170.54 1428.91) rotate(-90) scale(0.9429 0.9980)" font-size="84">(</text>
<text transform="translate(172.42 1404.31) rotate(-90) scale(1.0116 0.8882)" font-size="84">µ</text>
<text transform="translate(171.76 1355.94) rotate(-90) scale(0.9993 1.0219)" font-size="84">s</text>
<text transform="translate(137.15 1316.22) rotate(-90) scale(1.1337 1.2571)" font-size="56">-</text>
<text transform="translate(133.00 1292.50) rotate(-90) scale(0.6792 1.0434)" font-size="56">1</text>
<text transform="translate(170.54 1260.46) rotate(-90) scale(0.9294 0.9980)" font-size="84">)</text>
</g>
<g id="tags">
<text transform="translate(1412.04 438.62) scale(0.8682 0.9721)" font-size="106" stroke="#000" stroke-width="1.3" stroke-linejoin="round" vector-effect="non-scaling-stroke">(</text>
<text transform="translate(1446.97 439.04) scale(0.9776 0.9776)" font-size="106" stroke="#000" stroke-width="1.3" stroke-linejoin="round" vector-effect="non-scaling-stroke">b</text>
<text transform="translate(1512.20 438.62) scale(0.8824 0.9721)" font-size="106" stroke="#000" stroke-width="1.3" stroke-linejoin="round" vector-effect="non-scaling-stroke">)</text>
<text transform="translate(1420.90 1353.83) scale(0.8936 0.9844)" font-size="111" stroke="#000" stroke-width="1.3" stroke-linejoin="round" vector-effect="non-scaling-stroke">(</text>
<text transform="translate(1459.07 1353.89) scale(0.9085 0.9768)" font-size="111" stroke="#000" stroke-width="1.3" stroke-linejoin="round" vector-effect="non-scaling-stroke">a</text>
<text transform="translate(1527.97 1353.83) scale(0.8936 0.9844)" font-size="111" stroke="#000" stroke-width="1.3" stroke-linejoin="round" vector-effect="non-scaling-stroke">)</text>
</g>
<g id="legend">
<rect x="1087" y="678" width="482" height="462" fill="#fff" stroke="#000000" stroke-width="2" shape-rendering="crispEdges"/>
<circle cx="1167.8" cy="748.2" r="22.4" fill="#ff0000"/>
<circle cx="1167.8" cy="857.5" r="19.4" fill="none" stroke="#0000ff" stroke-width="6"/>
<path d="M1146.05 945.05L1189.95 988.95M1146.05 988.95L1189.95 945.05" stroke="#000000" stroke-width="6.4" stroke-linecap="round" fill="none"/>
<path d="M1148.65 1075.80H1187.75M1168.20 1056.25V1095.35" stroke="#000000" stroke-width="8.9" stroke-linecap="round" fill="none"/>
<text transform="translate(1261.18 739.38) scale(0.9598 0.9758)" font-size="44">16</text>
<text transform="translate(1308.62 771.32) scale(1.0166 1.0529)" font-size="66">O</text>
<text transform="translate(1359.73 790.92) scale(1.0128 1.0059)" font-size="44">pac</text>
<text transform="translate(1261.18 848.68) scale(0.9593 0.9758)" font-size="44">18</text>
<text transform="translate(1308.62 880.62) scale(1.0166 1.0529)" font-size="66">O</text>
<text transform="translate(1359.73 900.22) scale(1.0128 1.0059)" font-size="44">pac</text>
<text transform="translate(1261.40 957.68) scale(0.9552 0.9758)" font-size="44">16</text>
<text transform="translate(1308.56 989.62) scale(1.0055 1.0529)" font-size="66">O</text>
<text transform="translate(1360.13 1009.35) scale(1.0108 0.9913)" font-size="44">p</text>
<text transform="translate(1385.14 957.68) scale(0.9433 0.9758)" font-size="44">18</text>
<text transform="translate(1431.33 989.62) scale(1.0144 1.0529)" font-size="66">O</text>
<text transform="translate(1482.40 1009.37) scale(1.0175 1.0122)" font-size="44">ac</text>
<text transform="translate(1261.40 1066.88) scale(0.9547 0.9758)" font-size="44">18</text>
<text transform="translate(1308.56 1098.82) scale(1.0055 1.0529)" font-size="66">O</text>
<text transform="translate(1360.13 1118.55) scale(1.0108 0.9913)" font-size="44">p</text>
<text transform="translate(1385.14 1066.88) scale(0.9437 0.9758)" font-size="44">16</text>
<text transform="translate(1431.33 1098.82) scale(1.0144 1.0529)" font-size="66">O</text>
<text transform="translate(1482.40 1118.57) scale(1.0175 1.0122)" font-size="44">ac</text>
</g>
</svg></body></html>
